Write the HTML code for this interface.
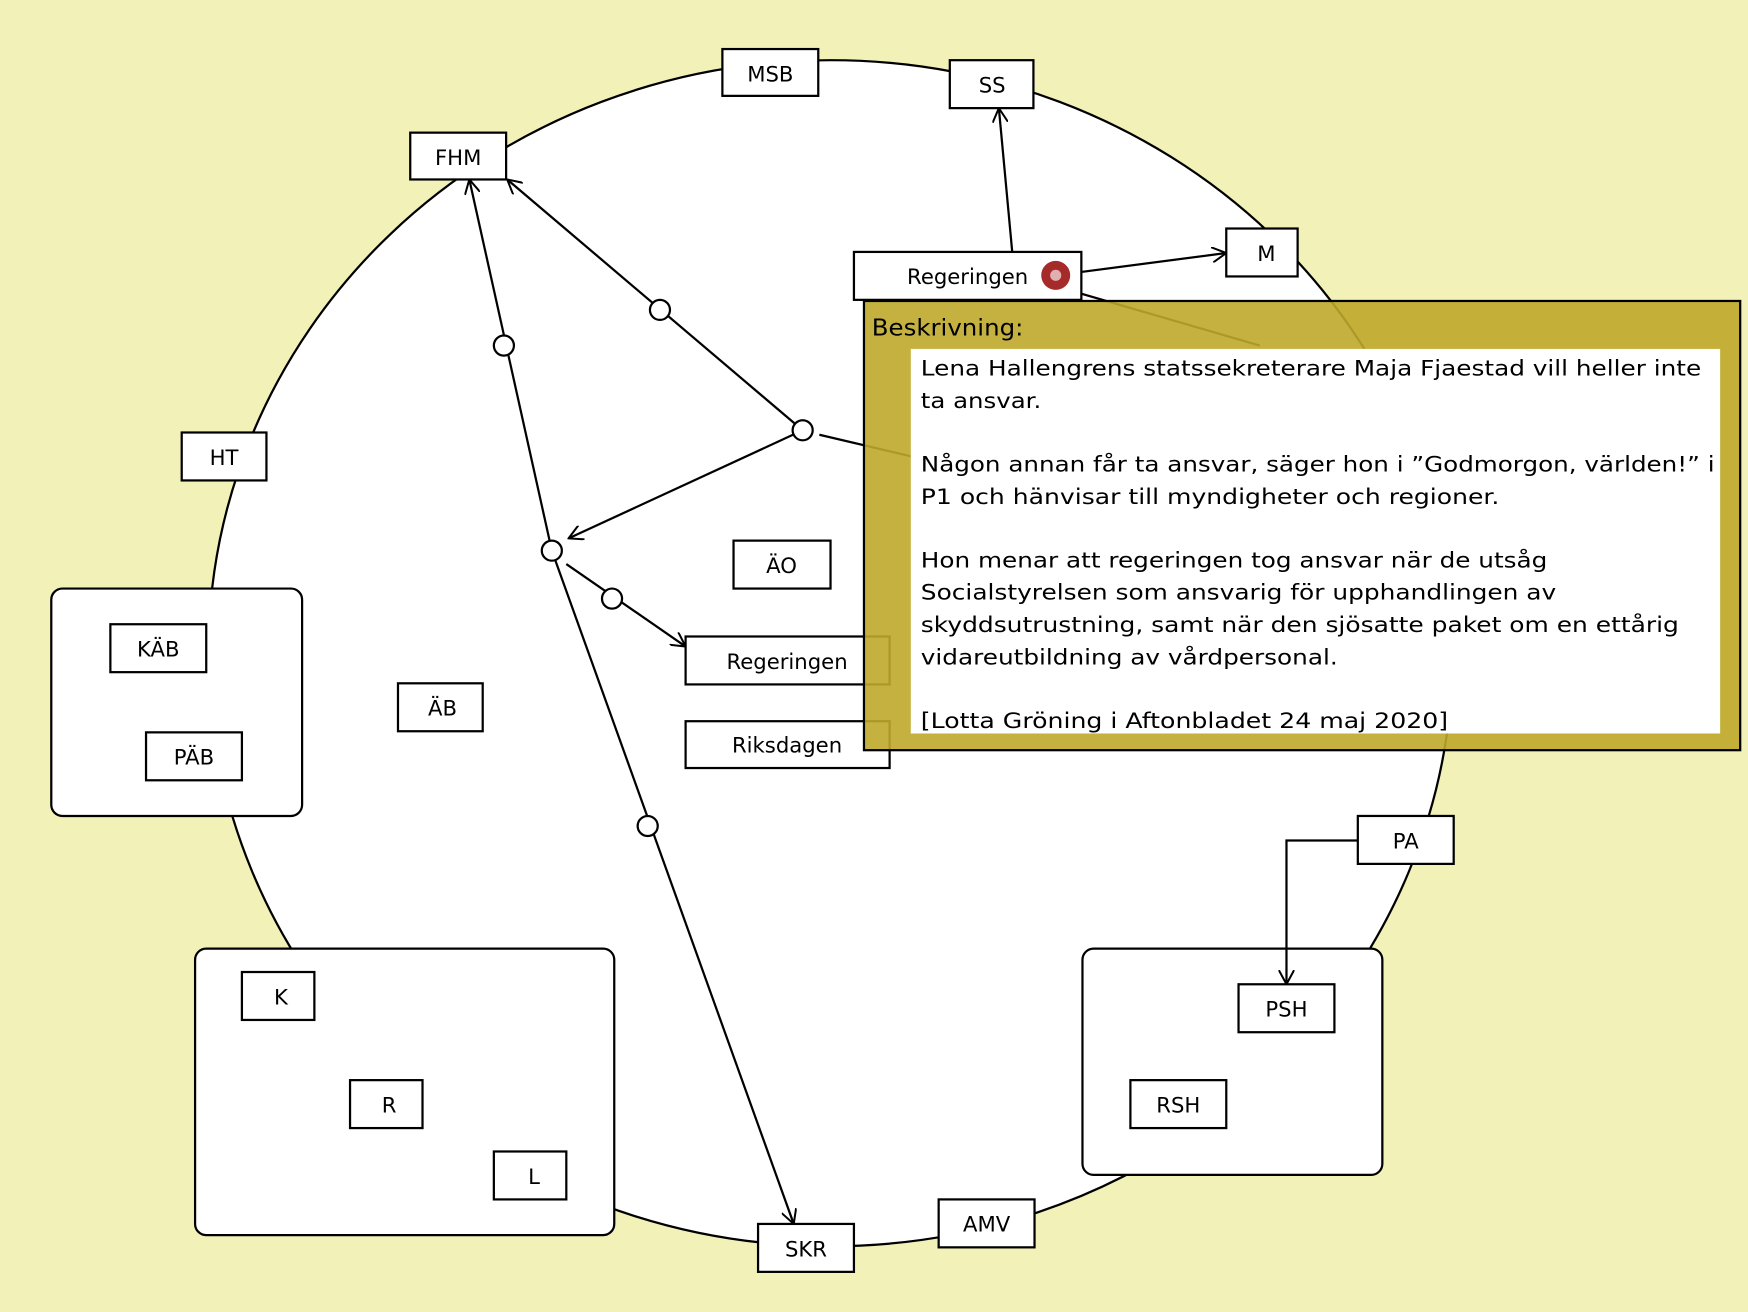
<!DOCTYPE html>
<html><head><meta charset="utf-8"><style>
html,body{margin:0;padding:0;background:#f2f1b8}
svg{display:block}
text{font-family:"DejaVu Sans","Liberation Sans",sans-serif;font-size:19px;fill:#000}
</style></head><body>
<svg width="1748" height="1312" viewBox="0 0 1568 1177" preserveAspectRatio="none" xmlns="http://www.w3.org/2000/svg">
<defs><marker id="a" viewBox="0 0 14 14" refX="13" refY="7" markerWidth="14" markerHeight="14" markerUnits="userSpaceOnUse" orient="auto"><path d="M0,0 L13,7 L0,14" fill="none" stroke="#000" stroke-width="1.8"/></marker></defs>
<rect width="1568" height="1177" fill="#f2f1b8"/>
<ellipse cx="745" cy="586" rx="558" ry="532" fill="#fff" stroke="#000" stroke-width="2"/>
<g fill="#fff" stroke="#000" stroke-width="2">
<rect x="46" y="528" width="225" height="204" rx="10"/>
<rect x="971" y="851" width="269" height="203" rx="10"/>
<rect x="175" y="851" width="376" height="257" rx="10"/>
</g>
<g stroke="#000" stroke-width="2" fill="none">
<line x1="720" y1="386" x2="455" y2="161" marker-end="url(#a)"/>
<line x1="720" y1="386" x2="510" y2="483" marker-end="url(#a)"/>
<line x1="735" y1="390" x2="820" y2="410"/>
<line x1="495" y1="494" x2="421" y2="161" marker-end="url(#a)"/>
<line x1="495" y1="494" x2="712" y2="1098" marker-end="url(#a)"/>
<line x1="508" y1="506" x2="615" y2="580" marker-end="url(#a)"/>
<line x1="908" y1="226" x2="896" y2="97" marker-end="url(#a)"/>
<line x1="947" y1="247" x2="1100" y2="227" marker-end="url(#a)"/>
<line x1="958" y1="260" x2="1130" y2="310"/>
<polyline points="1218,754 1154,754 1154,883" marker-end="url(#a)"/>
</g>
<g fill="#fff" stroke="#000" stroke-width="2">
<circle cx="592" cy="278" r="9"/><circle cx="720" cy="386" r="9"/><circle cx="452" cy="310" r="9"/>
<circle cx="495" cy="494" r="9"/><circle cx="549" cy="537" r="9"/><circle cx="581" cy="741" r="9"/>
<rect x="648" y="44" width="86" height="42"/>
<rect x="852" y="54" width="75" height="43"/>
<rect x="368" y="119" width="86" height="42"/>
<rect x="766" y="226" width="204" height="43"/>
<rect x="1100" y="205" width="64" height="43"/>
<rect x="163" y="388" width="76" height="43"/>
<rect x="658" y="485" width="87" height="43"/>
<rect x="99" y="560" width="86" height="43"/>
<rect x="131" y="657" width="86" height="43"/>
<rect x="357" y="613" width="76" height="43"/>
<rect x="615" y="571" width="183" height="43"/>
<rect x="615" y="647" width="183" height="42"/>
<rect x="1218" y="732" width="86" height="43"/>
<rect x="1111" y="883" width="86" height="43"/>
<rect x="1014" y="969" width="86" height="43"/>
<rect x="217" y="872" width="65" height="43"/>
<rect x="314" y="969" width="65" height="43"/>
<rect x="443" y="1033" width="65" height="43"/>
<rect x="842" y="1076" width="86" height="43"/>
<rect x="680" y="1098" width="86" height="43"/>
</g>
<g text-anchor="middle">
<text x="691" y="73">MSB</text><text x="890" y="83">SS</text><text x="411" y="148">FHM</text>
<text x="868" y="255">Regeringen</text><text x="1136" y="234">M</text><text x="201" y="417">HT</text>
<text x="701" y="514">ÄO</text><text x="142" y="589">KÄB</text><text x="174" y="686">PÄB</text>
<text x="397" y="642">ÄB</text><text x="706" y="600">Regeringen</text><text x="706" y="675">Riksdagen</text>
<text x="1261" y="761">PA</text><text x="1154" y="912">PSH</text><text x="1057" y="998">RSH</text>
<text x="252" y="901">K</text><text x="349" y="998">R</text><text x="479" y="1062">L</text>
<text x="885" y="1105">AMV</text><text x="723" y="1127">SKR</text>
</g>
<circle cx="947" cy="247" r="13" fill="#a52a2a"/><circle cx="947" cy="247" r="5" fill="#e0b0b0"/>
<rect x="775" y="270" width="786" height="403" fill="#bfa82a" fill-opacity="0.9" stroke="#000" stroke-width="2"/>
<rect x="817" y="313" width="726" height="345" fill="#fff"/>
<text x="782" y="301" style="font-size:21px" textLength="136" lengthAdjust="spacingAndGlyphs">Beskrivning:</text>
<g style="font-size:22px">
<text x="826" y="337" textLength="700" lengthAdjust="spacingAndGlyphs">Lena Hallengrens statssekreterare Maja Fjaestad vill heller inte</text>
<text x="826" y="366" textLength="108" lengthAdjust="spacingAndGlyphs">ta ansvar.</text>
<text x="826" y="423" textLength="712" lengthAdjust="spacingAndGlyphs">Någon annan får ta ansvar, säger hon i ”Godmorgon, världen!” i</text>
<text x="826" y="452" textLength="519" lengthAdjust="spacingAndGlyphs">P1 och hänvisar till myndigheter och regioner.</text>
<text x="826" y="509" textLength="562" lengthAdjust="spacingAndGlyphs">Hon menar att regeringen tog ansvar när de utsåg</text>
<text x="826" y="538" textLength="570" lengthAdjust="spacingAndGlyphs">Socialstyrelsen som ansvarig för upphandlingen av</text>
<text x="826" y="567" textLength="680" lengthAdjust="spacingAndGlyphs">skyddsutrustning, samt när den sjösatte paket om en ettårig</text>
<text x="826" y="596" textLength="374" lengthAdjust="spacingAndGlyphs">vidareutbildning av vårdpersonal.</text>
<text x="826" y="653" textLength="473" lengthAdjust="spacingAndGlyphs">[Lotta Gröning i Aftonbladet 24 maj 2020]</text>
</g>
</svg>
</body></html>
